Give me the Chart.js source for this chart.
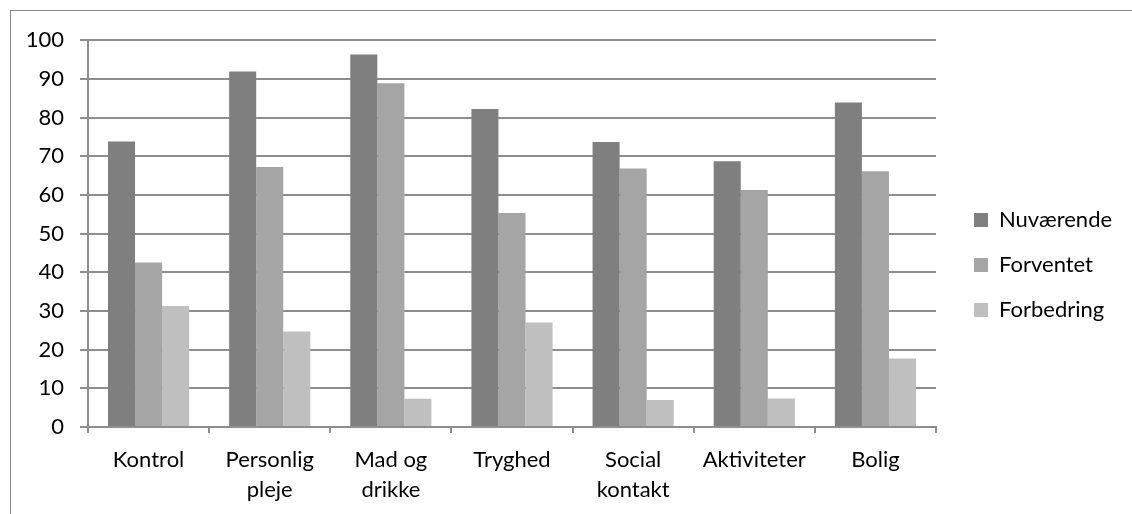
<!DOCTYPE html>
<html>
<head>
<meta charset="utf-8">
<script src="https://cdn.jsdelivr.net/npm/chart.js@4/dist/chart.umd.min.js"></script>
<style>
  html, body { margin: 0; padding: 0; background: #fff; }
  #frame {
    position: absolute; left: 10px; top: 10px;
    width: 1140px; height: 530px;
    border: 1px solid #8a8a8a; box-sizing: border-box;
  }
  #chart { position: absolute; left: 0; top: 0; }
</style>
</head>
<body>
<div id="frame"><canvas id="chart" width="1120" height="520"></canvas></div>
<script>
// Categories and series values
const categories = [
  'Kontrol',
  ['Personlig', 'pleje'],
  ['Mad og', 'drikke'],
  'Tryghed',
  ['Social', 'kontakt'],
  'Aktiviteter',
  'Bolig'
];
const seriesNames = ['Nuværende', 'Forventet', 'Forbedring'];
const nuvaerende = [73.8, 91.9, 96.3, 82.2, 73.7, 68.7, 83.9];
const forventet  = [42.5, 67.2, 88.9, 55.3, 66.8, 61.3, 66.1];
const forbedring = [31.3, 24.7, 7.3, 27.0, 7.0, 7.4, 17.7];
const yTicks = [0, 10, 20, 30, 40, 50, 60, 70, 80, 90, 100];

const FONT = 'Lato, "Open Sans", sans-serif';
const FONT_SIZE = 22;
const GRID = '#8e8e8e';

function buildChart() {
  // width of the legend column, so the plot area ends where intended
  const ctx0 = document.createElement('canvas').getContext('2d');
  ctx0.font = FONT_SIZE + 'px ' + FONT;
  const textW = Math.max(...seriesNames.map(s => ctx0.measureText(s).width));
  const legendPad = 23, boxW = 14;
  const legendW = legendPad + boxW + FONT_SIZE / 2 + textW;
  const spacer = 15;
  const padRight = Math.max(0, 1120 - 935 - spacer - legendW);

  new Chart(document.getElementById('chart'), {
    type: 'bar',
    data: {
      labels: categories,
      datasets: [
        { label: seriesNames[0], data: nuvaerende, backgroundColor: '#7f7f7f' },
        { label: seriesNames[1], data: forventet,  backgroundColor: '#a5a5a5' },
        { label: seriesNames[2], data: forbedring, backgroundColor: '#bfbfbf' }
      ]
    },
    options: {
      responsive: false,
      animation: false,
      devicePixelRatio: 1,
      datasets: { bar: { categoryPercentage: 0.67, barPercentage: 1.0, borderWidth: 0 } },
      layout: { padding: { top: 27, bottom: 24, left: 0, right: padRight } },
      plugins: {
        tooltip: { enabled: false },
        legend: {
          position: 'right',
          align: 'start',
          // empty title block pushes the entries down to the middle of the plot
          title: { display: true, text: '', padding: { top: 136, bottom: 0 }, font: { size: 10, lineHeight: 1.2 } },
          labels: {
            boxWidth: boxW, boxHeight: boxW,
            padding: legendPad,
            color: '#000',
            font: { family: FONT, size: FONT_SIZE }
          }
        }
      },
      scales: {
        x: {
          grid: { display: true, drawOnChartArea: false, drawTicks: true, tickLength: 6, color: GRID, lineWidth: 2, offset: true },
          border: { display: true, color: GRID, width: 2 },
          ticks: { color: '#000', padding: 12, maxRotation: 0, autoSkip: false,
                   font: { family: FONT, size: FONT_SIZE, lineHeight: 30 / FONT_SIZE } },
          afterFit: s => { s.height = 80; }
        },
        y: {
          min: 0, max: 100,
          afterBuildTicks: s => { s.ticks = yTicks.map(v => ({ value: v })); },
          grid: { color: GRID, lineWidth: 2, tickLength: 8, drawTicks: true },
          border: { display: true, color: GRID, width: 2 },
          ticks: { color: '#000', padding: 16, font: { family: FONT, size: FONT_SIZE } },
          afterFit: s => { s.width = 77; }
        },
        gap: {
          position: 'right', display: true, min: 0, max: 1,
          grid: { display: false }, border: { display: false }, ticks: { display: false },
          afterFit: s => { s.width = spacer; }
        }
      }
    }
  });
}

if (document.fonts && document.fonts.load) {
  document.fonts.load(FONT_SIZE + 'px Lato').then(buildChart, buildChart);
} else {
  buildChart();
}
</script>
</body>
</html>
